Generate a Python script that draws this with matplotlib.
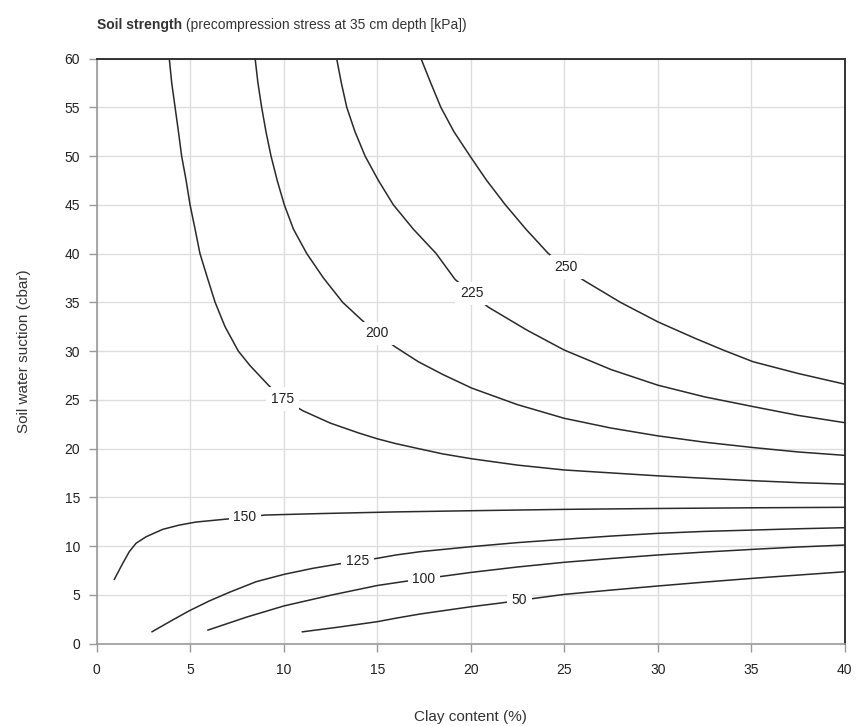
import numpy as np
import matplotlib
matplotlib.use("Agg")
import matplotlib.pyplot as plt

plt.rcParams["font.family"] = ["Liberation Sans", "DejaVu Sans"]

# contour lines: clay content (%) -> suction (cbar)
levels = [50, 100, 125, 150, 175, 200, 225, 250]

clay_50 = [11.0, 13.0, 15.0, 16.0, 17.3, 20.0, 21.7, 23.4, 25.0, 27.5, 30.0, 32.5, 35.1, 37.5, 40.0]
suct_50 = [1.2, 1.7, 2.24, 2.6, 3.03, 3.77, 4.18, 4.63, 5.04, 5.48, 5.9, 6.3, 6.69, 7.02, 7.36]

clay_100 = [5.95, 8.0, 10.0, 12.5, 15.0, 16.4, 18.5, 20.05, 22.5, 25.0, 27.5, 30.0, 32.5, 35.1, 37.5, 40.0]
suct_100 = [1.38, 2.7, 3.85, 4.95, 5.95, 6.35, 6.9, 7.3, 7.85, 8.33, 8.72, 9.08, 9.38, 9.66, 9.9, 10.1]

clay_125 = [2.96, 4.0, 4.95, 6.0, 7.09, 8.52, 10.03, 11.55, 12.9, 15.0, 16.0, 17.3,
            20.0, 22.5, 25.0, 27.5, 30.0, 32.5, 35.1, 37.5, 40.0]
suct_125 = [1.21, 2.35, 3.36, 4.35, 5.25, 6.34, 7.1, 7.71, 8.15, 8.74, 9.08, 9.42,
            9.93, 10.35, 10.69, 11.02, 11.3, 11.5, 11.64, 11.77, 11.88]

clay_150 = [0.94, 1.39, 1.74, 2.10, 2.64, 3.53, 4.42, 5.31, 6.82, 7.93, 9.02, 12.0,
            16.0, 20.0, 25.0, 30.0, 35.0, 40.0]
suct_150 = [6.58, 8.22, 9.42, 10.28, 10.95, 11.71, 12.15, 12.46, 12.74, 12.95, 13.18, 13.33,
            13.5, 13.62, 13.76, 13.85, 13.92, 13.97]

clay_175 = [3.88, 4.01, 4.19, 4.37, 4.54, 4.78, 4.99, 5.26, 5.52, 5.92, 6.33, 6.86,
            7.57, 8.2, 9.18, 10.0, 11.05, 12.5, 14.0, 15.0, 16.0, 17.3, 18.5, 20.05,
            22.5, 25.0, 27.5, 30.0, 32.5, 35.1, 37.5, 40.0]
suct_175 = [60, 57.5, 55, 52.5, 50, 47.5, 45, 42.5, 40, 37.5, 35, 32.5,
            30, 28.5, 26.5, 25.0, 23.85, 22.6, 21.6, 21.0, 20.5, 19.95, 19.45, 18.95,
            18.3, 17.8, 17.5, 17.2, 16.95, 16.7, 16.5, 16.35]

clay_200 = [8.47, 8.62, 8.82, 9.05, 9.32, 9.65, 10.03, 10.52, 11.23, 12.12, 13.15,
            14.17, 15.0, 15.95, 17.2, 18.5, 20.05, 22.5, 25.0, 27.5, 30.0, 32.5,
            35.1, 37.5, 40.0]
suct_200 = [60, 57.5, 55, 52.5, 50, 47.5, 45, 42.5, 40, 37.5, 35,
            33.18, 31.8, 30.44, 28.9, 27.6, 26.2, 24.5, 23.1, 22.1, 21.3, 20.65,
            20.1, 19.65, 19.3]

clay_225 = [12.83, 13.08, 13.37, 13.81, 14.35, 15.06, 15.86, 16.93, 18.15,
            19.16, 20.05, 20.94, 23.0, 25.0, 27.5, 30.0, 32.5, 35.1, 37.5, 40.0]
suct_225 = [60, 57.5, 55, 52.5, 50, 47.5, 45, 42.5, 40,
            37.35, 35.9, 34.5, 32.15, 30.1, 28.1, 26.5, 25.3, 24.3, 23.4, 22.65]

clay_250 = [17.34, 17.86, 18.4, 19.1, 19.96, 20.85, 21.85, 22.95, 24.15, 25.1,
            26.0, 28.0, 30.0, 32.0, 33.5, 35.1, 37.5, 40.0]
suct_250 = [60, 57.5, 55, 52.5, 50, 47.5, 45, 42.5, 40, 38.6,
            37.3, 35.0, 33.0, 31.3, 30.1, 28.9, 27.7, 26.6]

# clay content where each inline label sits
label_x = [22.6, 17.5, 13.95, 7.93, 9.95, 15.0, 20.05, 25.1]

curves = [
    (clay_50, suct_50), (clay_100, suct_100), (clay_125, suct_125),
    (clay_150, suct_150), (clay_175, suct_175), (clay_200, suct_200),
    (clay_225, suct_225), (clay_250, suct_250),
]

fig = plt.figure(figsize=(8.59, 7.26), dpi=100)
ax = fig.add_axes([0.1126, 0.1136, 0.8708, 0.8058])

for lev, (cx, sy), lx in zip(levels, curves, label_x):
    ax.plot(cx, sy, color="#2a2a2a", linewidth=1.1, zorder=3,
            solid_joinstyle="round")
    ly = np.interp(lx, cx, sy)
    ax.text(lx, ly, str(lev), ha="center", va="center", fontsize=10,
            color="#222222", zorder=4,
            bbox=dict(facecolor="white", edgecolor="none", pad=3.5))

ax.set_xlim(0, 40)
ax.set_ylim(0, 60)
ax.set_xticks(range(0, 41, 5))
ax.set_yticks(range(0, 61, 5))
ax.grid(True, color="#dddddd", linewidth=1.0, zorder=0)
ax.set_axisbelow(True)

for side in ("left", "bottom"):
    ax.spines[side].set_color("#999999")
    ax.spines[side].set_linewidth(1.2)
for side in ("top", "right"):
    ax.spines[side].set_color("#333333")
    ax.spines[side].set_linewidth(1.4)
ax.tick_params(direction="out", length=6, width=1, color="#999999",
               labelcolor="#222222", labelsize=10)
ax.tick_params(axis="x", pad=8)
ax.tick_params(axis="y", pad=6)

ax.set_xlabel("Clay content (%)", fontsize=11, color="#333333", labelpad=24)
ax.set_ylabel("Soil water suction (cbar)", fontsize=11, color="#333333",
              labelpad=24)

# bold lead-in followed by the plain part of the title
t1 = fig.text(0.113, 0.9656, "Soil strength", fontsize=10, fontweight="bold",
              color="#333333", ha="left", va="center")
fig.canvas.draw()
bb = t1.get_window_extent()
fig.text(bb.x1 / fig.bbox.width, 0.9656,
         " (precompression stress at 35 cm depth [kPa])", fontsize=10,
         color="#333333", ha="left", va="center")

fig.savefig("out.png", dpi=100, facecolor="white")
